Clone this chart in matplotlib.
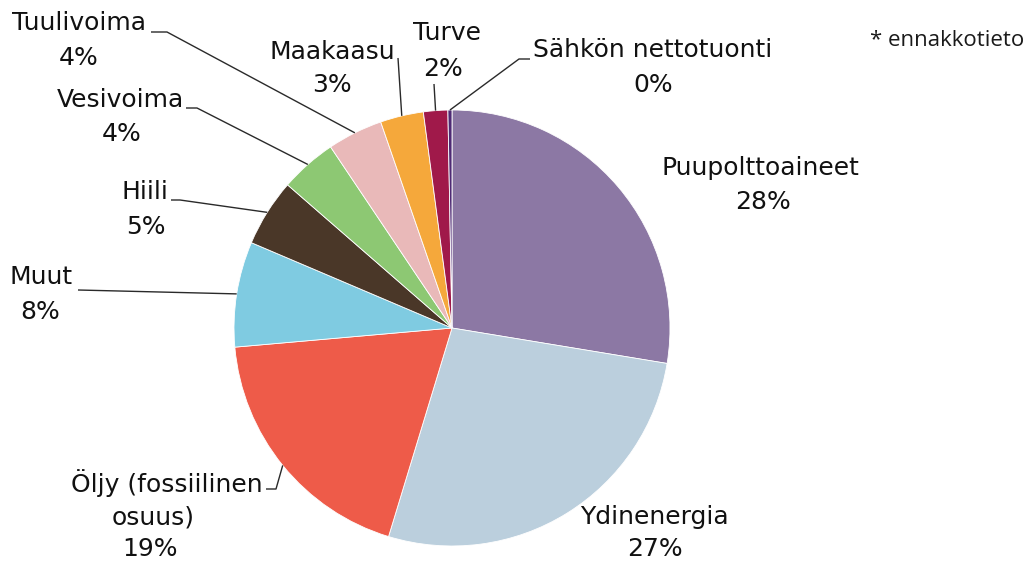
import numpy as np
import matplotlib.pyplot as plt

# energy sources, clockwise from 12 o'clock
labels = ["Puupolttoaineet", "Ydinenergia", "Öljy (fossiilinen\nosuus)", "Muut", "Hiili",
          "Vesivoima", "Tuulivoima", "Maakaasu", "Turve", "Sähkön nettotuonti"]
shares = [27.6, 27.1, 18.9, 7.8, 5.0, 4.2, 4.1, 3.2, 1.8, 0.3]
colors = ["#8C78A4", "#BBCFDD", "#EE5B49", "#7FCBE1", "#4A3728",
          "#8DC873", "#E9B9B9", "#F5A83B", "#A0194A", "#4E2A74"]
note = "* ennakkotieto"

W, H = 1029, 561
fig = plt.figure(figsize=(W / 100, H / 100), dpi=100)
ax = fig.add_axes([0, 0, 1, 1])

cx, cy, r = 452, H - 328, 218
wedges, _ = ax.pie(shares, colors=colors, startangle=90, counterclock=False,
                   center=(cx, cy), radius=r,
                   wedgeprops=dict(edgecolor="white", linewidth=0.6))
ax.set_xlim(0, W)
ax.set_ylim(0, H)
ax.set_aspect("equal")
ax.axis("off")

# label layout in image pixels (y from top): name pos, pct pos, leader points
layout = {
    "Puupolttoaineet": ((760, 168), (763, 202), None),
    "Ydinenergia": ((654, 517), (655, 549), None),
    "Öljy (fossiilinen\nosuus)": (None, (150, 549), [(266, 489), (276, 489)]),
    "Muut": ((41, 277), (40, 312), [(78, 290)]),
    "Hiili": ((145, 192), (146, 227), [(171, 200), (180, 200)]),
    "Vesivoima": ((120, 100), (122, 134), [(186, 108), (197, 108)]),
    "Tuulivoima": ((79, 23), (79, 58), [(151, 32), (167, 32)]),
    "Maakaasu": ((332, 52), (332, 85), [(398, 58)]),
    "Turve": ((447, 33), (443, 69), [(434, 84)]),
    "Sähkön nettotuonti": ((653, 50), (653, 85), [(530, 59), (519, 59)]),
}

fs = 18
txt = dict(fontsize=fs, color="#111111", ha="center", va="center", family="DejaVu Sans")

for w, name, val in zip(wedges, labels, shares):
    name_pos, pct_pos, leader = layout[name]
    if name_pos is None:
        first, second = name.split("\n")
        ax.text(167, H - 483, first, **txt)
        ax.text(153, H - 517, second, **txt)
    else:
        ax.text(name_pos[0], H - name_pos[1], name, **txt)
    ax.text(pct_pos[0], H - pct_pos[1], f"{val:.0f}%", **txt)
    if leader:
        mid = np.deg2rad((w.theta1 + w.theta2) / 2)
        ex, ey = cx + r * np.cos(mid), cy + r * np.sin(mid)
        xs = [p[0] for p in leader] + [ex]
        ys = [H - p[1] for p in leader] + [ey]
        ax.plot(xs, ys, color="#2a2a2a", lw=1.0, solid_capstyle="butt")

ax.text(947, H - 40, note, fontsize=16, family="Open Sans", color="#1a1a1a",
        ha="center", va="center")

fig.savefig("out.png", dpi=100, facecolor="white")
